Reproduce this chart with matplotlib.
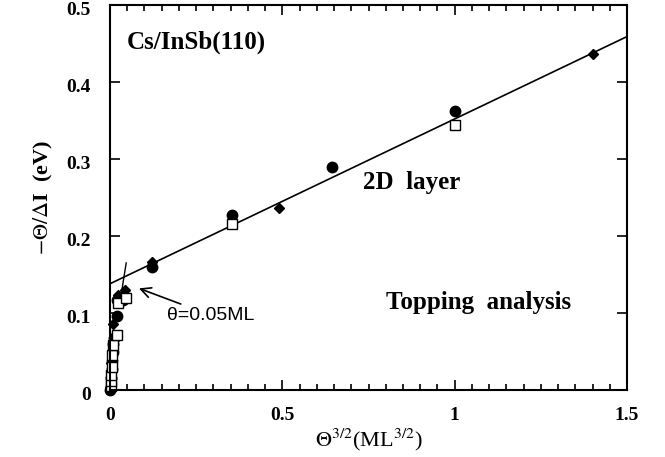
import numpy as np
import matplotlib
matplotlib.use("Agg")
import matplotlib.pyplot as plt
import matplotlib.transforms as mtransforms
from matplotlib.ticker import MultipleLocator, FixedLocator

# fonts: Times-like serif everywhere, stix for the math bits
plt.rcParams['font.family'] = ['Liberation Serif', 'DejaVu Serif']
plt.rcParams['mathtext.fontset'] = 'stix'

# filled circles
circle_x = [0.0, 0.003, 0.005, 0.007, 0.008, 0.010, 0.012, 0.020, 0.020, 0.037, 0.122, 0.355, 0.645, 1.0]
circle_y = [0.0, 0.015, 0.027, 0.038, 0.050, 0.060, 0.068, 0.096, 0.117, 0.117, 0.160, 0.227, 0.290, 0.362]
# filled diamonds
diamond_x = [0.0, 0.002, 0.004, 0.006, 0.008, 0.010, 0.024, 0.044, 0.122, 0.49, 1.4]
diamond_y = [0.004, 0.020, 0.035, 0.048, 0.060, 0.086, 0.123, 0.130, 0.166, 0.236, 0.437]
# open squares
square_x = [0.002, 0.003, 0.004, 0.005, 0.006, 0.008, 0.020, 0.023, 0.046, 0.355, 1.0]
square_y = [0.005, 0.012, 0.020, 0.030, 0.045, 0.058, 0.071, 0.113, 0.120, 0.216, 0.344]

# linear fit for the 2D layer and the steep initial slope
fit_x = [0.0, 1.5]
fit_y = [0.138, 0.459]
steep_x = [0.032, 0.047]
steep_y = [0.123, 0.165]

x_ticks = [0, 0.5, 1, 1.5]
x_labels = ["0", "0.5", "1", "1.5"]
y_ticks = [0, 0.1, 0.2, 0.3, 0.4, 0.5]
y_labels = ["0", "0.1", "0.2", "0.3", "0.4", "0.5"]

fig = plt.figure(figsize=(6.65, 4.57), dpi=100)
axis = fig.add_axes([110 / 665, 67 / 457, 517 / 665, 385 / 457])

axis.plot(fit_x, fit_y, color='black', lw=1.2)
axis.plot(steep_x, steep_y, color='black', lw=1.0)
axis.plot(circle_x, circle_y, 'o', color='black', ms=7.5, clip_on=False)
axis.plot(diamond_x, diamond_y, 'D', color='black', ms=5.5, clip_on=False)
axis.plot(square_x, square_y, 's', mfc='white', mec='black', mew=1.0, ms=7, clip_on=False)

axis.set_xlim(0, 1.5)
axis.set_ylim(0, 0.5)
axis.xaxis.set_major_locator(FixedLocator(x_ticks))
axis.set_xticklabels(x_labels)
axis.xaxis.set_minor_locator(MultipleLocator(0.05))
axis.yaxis.set_major_locator(FixedLocator(y_ticks))
axis.set_yticklabels(y_labels)

axis.tick_params(which='both', direction='in', top=True, right=True, width=1.2)
axis.tick_params(which='major', length=7)
axis.tick_params(which='minor', length=4)
axis.tick_params(axis='x', which='major', pad=12)
axis.tick_params(axis='y', which='major', pad=14)
# y labels sit a little below their ticks in the original
shift = mtransforms.ScaledTranslation(0, -2.5 / 72, fig.dpi_scale_trans)
for lab in axis.get_yticklabels():
    lab.set_transform(lab.get_transform() + shift)
for lab in axis.get_xticklabels() + axis.get_yticklabels():
    lab.set_fontsize(14)
    lab.set_fontweight('bold')
for sp in axis.spines.values():
    sp.set_linewidth(1.5)

axis.set_xlabel(r"$\Theta^{3/2}$(ML$^{3/2}$)", fontsize=16, labelpad=2)
axis.set_ylabel(r"$-\Theta/\Delta$I  (eV)", fontsize=16, fontweight='bold', labelpad=8)

axis.text(0.05, 0.452, "Cs/InSb(110)", fontsize=18, fontweight='bold', va='center')
axis.text(0.735, 0.27, "2D  layer", fontsize=18, fontweight='bold', va='center')
axis.text(0.80, 0.113, "Topping  analysis", fontsize=18, fontweight='bold', va='center')
axis.annotate("θ=0.05ML", xy=(0.084, 0.132), xytext=(0.166, 0.097),
              fontsize=14, family=['Liberation Sans', 'DejaVu Sans'], va='center',
              arrowprops=dict(arrowstyle='->', color='black', lw=1.2,
                              shrinkA=0, shrinkB=0, mutation_scale=18))

fig.savefig("out.png", dpi=100)
